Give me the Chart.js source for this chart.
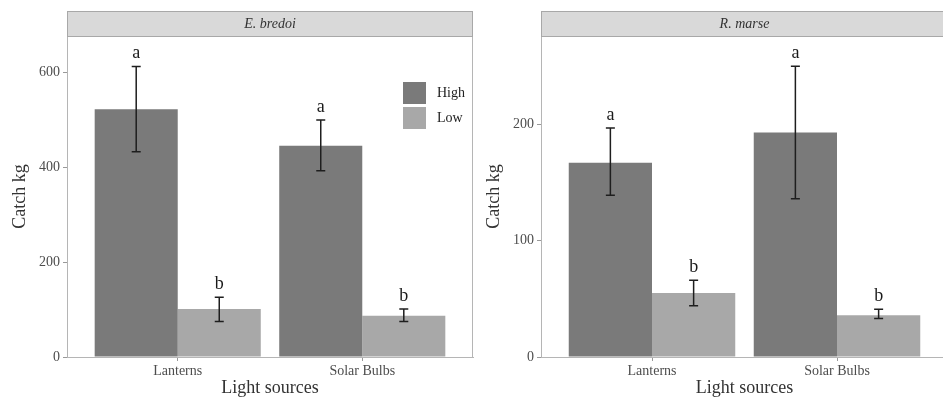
<!DOCTYPE html>
<html>
<head>
<meta charset="utf-8">
<script src="https://cdn.jsdelivr.net/npm/chart.js@4"></script>
<style>
  html, body { margin: 0; padding: 0; background: #fff; overflow: hidden; }
  body { width: 943px; height: 403px; position: relative; }
  canvas { position: absolute; top: 0; }
  #panelA { left: 0; }
  #panelB { left: 474px; }
</style>
</head>
<body>
<canvas id="panelA" width="474" height="403"></canvas>
<canvas id="panelB" width="475" height="403"></canvas>
<script>
'use strict';

// ── Data ──────────────────────────────────────────────────
const categories = ['Lanterns', 'Solar Bulbs'];
const seriesNames = ['High', 'Low'];

// E. bredoi
const bredoiHigh    = [522, 445];
const bredoiHighLo  = [432, 392];
const bredoiHighHi  = [612, 499];
const bredoiLow     = [101, 87];
const bredoiLowLo   = [75, 75];
const bredoiLowHi   = [126, 101];
const bredoiLetters = [['a', 'a'], ['b', 'b']];
const bredoiTicks   = [0, 200, 400, 600];

// R. marse
const marseHigh    = [167, 193];
const marseHighLo  = [139, 136];
const marseHighHi  = [197, 250];
const marseLow     = [55, 36];
const marseLowLo   = [44, 33];
const marseLowHi   = [66, 41];
const marseLetters = [['a', 'a'], ['b', 'b']];
const marseTicks   = [0, 100, 200];

const COLORS = ['#7a7a7a', '#a8a8a8'];
const SERIF = '"Liberation Serif", "DejaVu Serif", serif';

// ── Plugin: strip, panel border, error bars, letters, legend ──
const facetPlugin = {
  id: 'facet',
  afterDatasetsDraw(chart) {
    const o = chart.options.plugins.facet;
    const { ctx, chartArea: a, scales } = chart;
    ctx.save();

    // error bars + letters
    chart.data.datasets.forEach((ds, di) => {
      const meta = chart.getDatasetMeta(di);
      meta.data.forEach((bar, j) => {
        const yHi = scales.y.getPixelForValue(o.errHi[di][j]);
        const yLo = scales.y.getPixelForValue(o.errLo[di][j]);
        const x = bar.x;
        ctx.strokeStyle = '#1e1e1e';
        ctx.lineWidth = 1.5;
        ctx.beginPath();
        ctx.moveTo(x, yHi); ctx.lineTo(x, yLo);
        ctx.moveTo(x - 4.5, yHi); ctx.lineTo(x + 4.5, yHi);
        ctx.moveTo(x - 4.5, yLo); ctx.lineTo(x + 4.5, yLo);
        ctx.stroke();

        ctx.fillStyle = '#1a1a1a';
        ctx.font = '18px ' + SERIF;
        ctx.textAlign = 'center';
        ctx.textBaseline = 'middle';
        ctx.fillText(o.letters[di][j], x, yHi - 13);
      });
    });

    // panel border
    ctx.strokeStyle = '#b5b5b5';
    ctx.lineWidth = 1;
    ctx.strokeRect(a.left + 0.5, a.top + 0.5, a.right - a.left - 1, a.bottom - a.top);

    // strip
    ctx.fillStyle = '#d9d9d9';
    ctx.fillRect(a.left, 11, a.right - a.left, a.top - 11);
    ctx.strokeStyle = '#a8a8a8';
    ctx.strokeRect(a.left + 0.5, 11.5, a.right - a.left - 1, a.top - 11);
    ctx.fillStyle = '#333';
    ctx.font = 'italic 14px ' + SERIF;
    ctx.textAlign = 'center';
    ctx.textBaseline = 'middle';
    ctx.fillText(o.strip, (a.left + a.right) / 2, 24);

    // legend
    if (o.legend) {
      chart.data.datasets.forEach((ds, di) => {
        const top = 82 + di * 25;
        ctx.fillStyle = ds.backgroundColor;
        ctx.fillRect(403, top, 23, 22);
        ctx.fillStyle = '#222';
        ctx.font = '14px ' + SERIF;
        ctx.textAlign = 'left';
        ctx.textBaseline = 'middle';
        ctx.fillText(ds.label, 437, top + 11);
      });
    }
    ctx.restore();
  }
};

function makePanel(id, high, low, errLo, errHi, letters, yMax, yTicks, strip, legend) {
  const toPoints = vals => categories.map((c, i) => ({ x: i + 1, y: vals[i] }));
  return new Chart(document.getElementById(id), {
    type: 'bar',
    data: {
      datasets: [
        { label: seriesNames[0], data: toPoints(high), backgroundColor: COLORS[0] },
        { label: seriesNames[1], data: toPoints(low),  backgroundColor: COLORS[1] }
      ]
    },
    plugins: [facetPlugin],
    options: {
      responsive: false,
      animation: false,
      devicePixelRatio: 1,
      categoryPercentage: 0.9,
      barPercentage: 1,
      layout: { padding: { top: 36, left: 0, right: 1, bottom: 0 } },
      scales: {
        x: {
          type: 'linear',
          min: 0.4, max: 2.6,
          offset: false,
          afterBuildTicks: s => { s.ticks = categories.map((c, i) => ({ value: i + 1 })); },
          afterFit: s => { s.height = 46; },
          ticks: {
            callback: v => categories[v - 1],
            color: '#4d4d4d',
            font: { family: SERIF, size: 14 },
            padding: 2,
            maxRotation: 0
          },
          grid: { drawOnChartArea: false, drawTicks: true, tickLength: 4, color: '#999', offset: false },
          border: { display: true, color: '#b5b5b5' },
          title: {
            display: true, text: 'Light sources', color: '#333',
            font: { family: SERIF, size: 18 }, padding: { top: 0, bottom: 4 }
          }
        },
        y: {
          min: 0, max: yMax,
          afterBuildTicks: s => { s.ticks = yTicks.map(v => ({ value: v })); },
          afterFit: s => { s.width = 67; },
          ticks: {
            color: '#4d4d4d',
            font: { family: SERIF, size: 14 },
            padding: 3
          },
          grid: { drawOnChartArea: false, drawTicks: true, tickLength: 4, color: '#999' },
          border: { display: true, color: '#b5b5b5' },
          title: {
            display: true, text: 'Catch kg', color: '#333',
            font: { family: SERIF, size: 18 }, padding: { top: 9, bottom: 0 }
          }
        }
      },
      plugins: {
        legend: { display: false },
        tooltip: { enabled: false },
        facet: { errLo, errHi, letters, strip, legend }
      }
    }
  });
}

makePanel('panelA', bredoiHigh, bredoiLow,
  [bredoiHighLo, bredoiLowLo], [bredoiHighHi, bredoiLowHi],
  bredoiLetters, 676, bredoiTicks, 'E. bredoi', true);

makePanel('panelB', marseHigh, marseLow,
  [marseHighLo, marseLowLo], [marseHighHi, marseLowHi],
  marseLetters, 276, marseTicks, 'R. marse', false);
</script>
</body>
</html>
